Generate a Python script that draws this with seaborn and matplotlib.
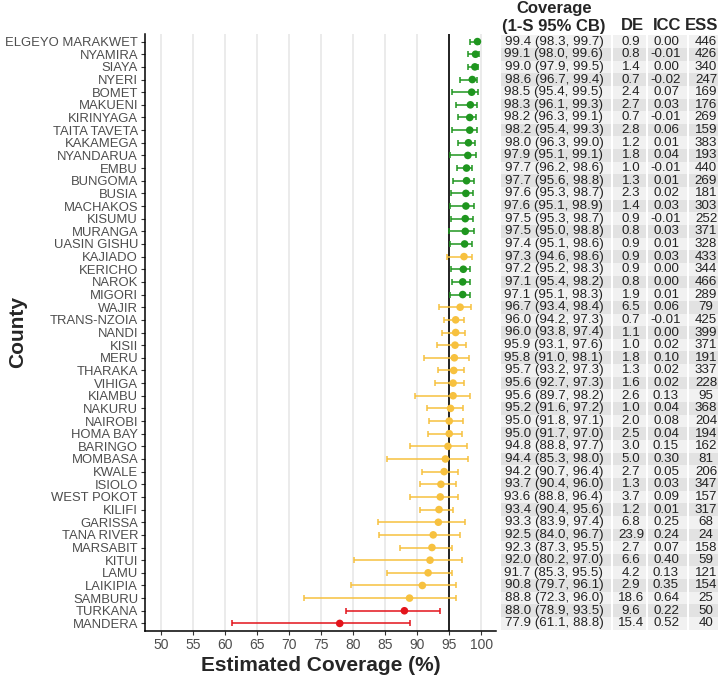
import numpy as np
import pandas as pd
import matplotlib
matplotlib.use("Agg")
import matplotlib.pyplot as plt
import seaborn as sns

counties = ["ELGEYO MARAKWET", "NYAMIRA", "SIAYA", "NYERI", "BOMET", "MAKUENI", "KIRINYAGA",
            "TAITA TAVETA", "KAKAMEGA", "NYANDARUA", "EMBU", "BUNGOMA", "BUSIA", "MACHAKOS",
            "KISUMU", "MURANGA", "UASIN GISHU", "KAJIADO", "KERICHO", "NAROK", "MIGORI", "WAJIR",
            "TRANS-NZOIA", "NANDI", "KISII", "MERU", "THARAKA", "VIHIGA", "KIAMBU", "NAKURU",
            "NAIROBI", "HOMA BAY", "BARINGO", "MOMBASA", "KWALE", "ISIOLO", "WEST POKOT", "KILIFI",
            "GARISSA", "TANA RIVER", "MARSABIT", "KITUI", "LAMU", "LAIKIPIA", "SAMBURU", "TURKANA",
            "MANDERA"]
coverage = [99.4, 99.1, 99.0, 98.6, 98.5, 98.3, 98.2, 98.2, 98.0, 97.9, 97.7, 97.7, 97.6, 97.6,
            97.5, 97.5, 97.4, 97.3, 97.2, 97.1, 97.1, 96.7, 96.0, 96.0, 95.9, 95.8, 95.7, 95.6,
            95.6, 95.2, 95.0, 95.0, 94.8, 94.4, 94.2, 93.7, 93.6, 93.4, 93.3, 92.5, 92.3, 92.0,
            91.7, 90.8, 88.8, 88.0, 77.9]
lower = [98.3, 98.0, 97.9, 96.7, 95.4, 96.1, 96.3, 95.4, 96.3, 95.1, 96.2, 95.6, 95.3, 95.1,
         95.3, 95.0, 95.1, 94.6, 95.2, 95.4, 95.1, 93.4, 94.2, 93.8, 93.1, 91.0, 93.2, 92.7,
         89.7, 91.6, 91.8, 91.7, 88.8, 85.3, 90.7, 90.4, 88.8, 90.4, 83.9, 84.0, 87.3, 80.2,
         85.3, 79.7, 72.3, 78.9, 61.1]
upper = [99.7, 99.6, 99.5, 99.4, 99.5, 99.3, 99.1, 99.3, 99.0, 99.1, 98.6, 98.8, 98.7, 98.9,
         98.7, 98.8, 98.6, 98.6, 98.3, 98.2, 98.3, 98.4, 97.3, 97.4, 97.6, 98.1, 97.3, 97.3,
         98.2, 97.2, 97.1, 97.0, 97.7, 98.0, 96.4, 96.0, 96.4, 95.6, 97.4, 96.7, 95.5, 97.0,
         95.5, 96.1, 96.0, 93.5, 88.8]
de = [0.9, 0.8, 1.4, 0.7, 2.4, 2.7, 0.7, 2.8, 1.2, 1.8, 1.0, 1.3, 2.3, 1.4, 0.9, 0.8, 0.9, 0.9,
      0.9, 0.8, 1.9, 6.5, 0.7, 1.1, 1.0, 1.8, 1.3, 1.6, 2.6, 1.0, 2.0, 2.5, 3.0, 5.0, 2.7, 1.3,
      3.7, 1.2, 6.8, 23.9, 2.7, 6.6, 4.2, 2.9, 18.6, 9.6, 15.4]
icc = [0.00, -0.01, 0.00, -0.02, 0.07, 0.03, -0.01, 0.06, 0.01, 0.04, -0.01, 0.01, 0.02, 0.03,
       -0.01, 0.03, 0.01, 0.03, 0.00, 0.00, 0.01, 0.06, -0.01, 0.00, 0.02, 0.10, 0.02, 0.02,
       0.13, 0.04, 0.08, 0.04, 0.15, 0.30, 0.05, 0.03, 0.09, 0.01, 0.25, 0.24, 0.07, 0.40, 0.13,
       0.35, 0.64, 0.22, 0.52]
ess = [446, 426, 340, 247, 169, 176, 269, 159, 383, 193, 440, 269, 181, 303, 252, 371, 328, 433,
       344, 466, 289, 79, 425, 399, 371, 191, 337, 228, 95, 368, 204, 194, 162, 81, 206, 347,
       157, 317, 68, 24, 158, 59, 121, 154, 25, 50, 40]
x_ticks = [50, 55, 60, 65, 70, 75, 80, 85, 90, 95, 100]
target = 95

df = pd.DataFrame({"county": counties, "cov": coverage, "lo": lower, "hi": upper,
                   "de": de, "icc": icc, "ess": ess})
df["pos"] = np.arange(len(df))
df["status"] = np.where(df["lo"] >= target, "above",
                        np.where(df["hi"] < target, "below", "uncertain"))
palette = {"above": "#1f961f", "uncertain": "#f7c13f", "below": "#e3141b"}

sns.set_style("white")
plt.rcParams["font.family"] = ["Liberation Sans", "DejaVu Sans"]

W, H = 718, 679
fig = plt.figure(figsize=(W / 100, H / 100), dpi=100)

def fx(px):
    return px / W

def fy(py):
    return 1 - py / H

ax_l, ax_r, ax_t, ax_b = 145, 496, 34, 631
ax = fig.add_axes([fx(ax_l), fy(ax_b), fx(ax_r - ax_l), (ax_b - ax_t) / H])

for st, g in df.groupby("status"):
    ax.errorbar(g["cov"], g["pos"], xerr=[g["cov"] - g["lo"], g["hi"] - g["cov"]],
                fmt="none", ecolor=palette[st], elinewidth=1.1, capsize=2.2, capthick=1.1,
                zorder=3)
sns.scatterplot(data=df, x="cov", y="pos", hue="status", palette=palette, s=30,
                edgecolor="none", legend=False, ax=ax, zorder=4)
ax.axvline(target, color="black", lw=1.2, zorder=2)

n = len(df)
ax.set_ylim(n - 1 + 0.6, -0.6)
ax.set_xlim(47.5, 102.3)
ax.set_yticks(df["pos"], labels=df["county"])
ax.set_xticks(x_ticks, labels=[str(t) for t in x_ticks])
ax.grid(axis="x", color="#e6e6e6", lw=1.1, zorder=0)
ax.grid(axis="y", visible=False)
for s in ["top", "right"]:
    ax.spines[s].set_visible(False)
for s in ["left", "bottom"]:
    ax.spines[s].set_color("black")
    ax.spines[s].set_linewidth(1.1)
ax.tick_params(axis="both", which="both", length=3, width=0.8, color="#333333",
               labelsize=9.4, labelcolor="#4d4d4d", pad=2, left=True, bottom=True)
ax.tick_params(axis="x", labelsize=10)
ax.set_xlabel("Estimated Coverage (%)", fontsize=15, fontweight="bold", labelpad=3)
ax.set_ylabel("County", fontsize=15, fontweight="bold")
ax.yaxis.set_label_coords((27 - ax_l) / (ax_r - ax_l), 0.5)

# table
tl, tr = 501, 718
tax = fig.add_axes([fx(tl), fy(ax_b), fx(tr - tl), (ax_b - ax_t) / H], sharey=ax)
tax.set_xlim(tl, tr)
tax.axis("off")
cols = [(501, 611), (613, 646), (648, 687), (689, 718)]
shade = np.where(df["pos"] % 2 == 0, "#f1f1f1", "#e2e2e2")
for (c0, c1) in cols:
    tax.barh(df["pos"], width=c1 - c0, left=c0, height=1.0, color=shade, edgecolor="none")
tfs = 9.6
tcol = "#222222"
for _, r in df.iterrows():
    tax.text(554, r["pos"], f"{r['cov']:.1f} ({r['lo']:.1f}, {r['hi']:.1f})", ha="center",
             va="center", fontsize=tfs, color=tcol)
    tax.text(631, r["pos"], f"{r['de']:.1f}", ha="center", va="center", fontsize=tfs,
             color=tcol)
    tax.text(666, r["pos"], f"{r['icc']:.2f}", ha="center", va="center", fontsize=tfs,
             color=tcol)
    tax.text(706, r["pos"], f"{int(r['ess'])}", ha="center", va="center", fontsize=tfs,
             color=tcol)

hfs = 12
fig.text(fx(554), fy(9), "Coverage", ha="center", va="center", fontsize=hfs, fontweight="bold")
fig.text(fx(554), fy(26), "(1-S 95% CB)", ha="center", va="center", fontsize=hfs,
         fontweight="bold")
fig.text(fx(632), fy(26), "DE", ha="center", va="center", fontsize=hfs, fontweight="bold")
fig.text(fx(667), fy(26), "ICC", ha="center", va="center", fontsize=hfs, fontweight="bold")
fig.text(fx(702), fy(26), "ESS", ha="center", va="center", fontsize=hfs, fontweight="bold")

fig.savefig("out.png", dpi=100)
